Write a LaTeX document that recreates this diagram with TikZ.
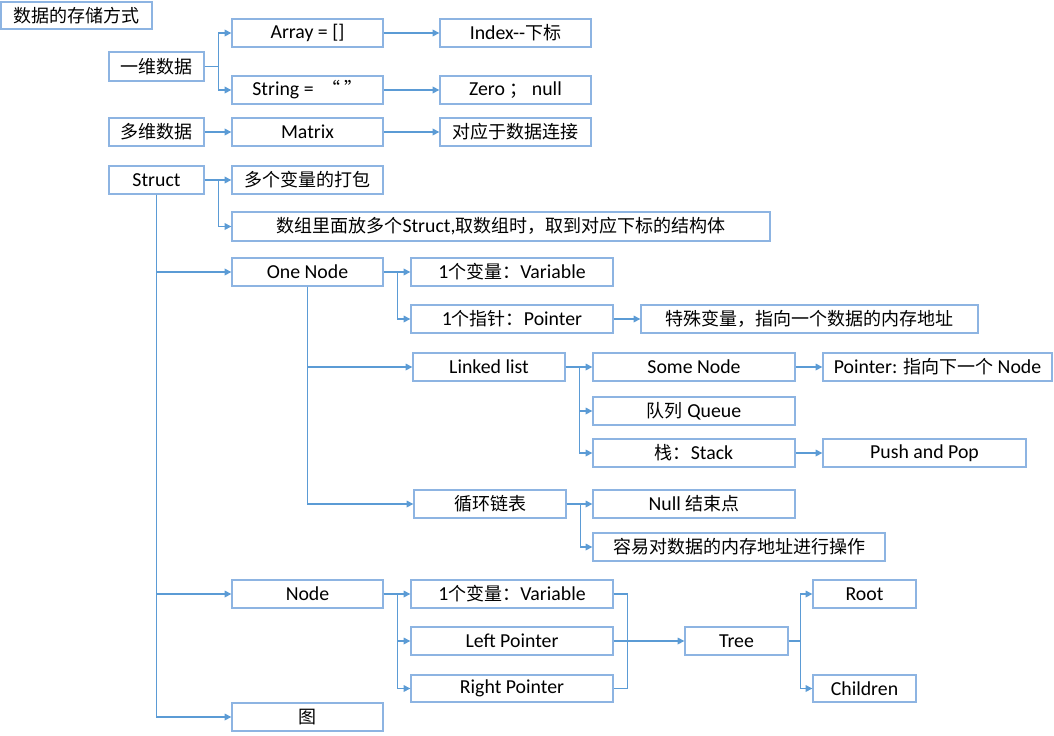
\documentclass[tikz,border=0pt]{standalone}
\usepackage{fontspec}
\setmainfont{Carlito}[Scale=1.1]
\newfontfamily\cjk{Noto Sans CJK SC}
\usetikzlibrary{arrows.meta}
\definecolor{boxc}{RGB}{141,180,226}
\definecolor{linec}{RGB}{91,155,213}
\tikzset{
  box/.style={draw=boxc, line width=1pt, fill=white, inner sep=0pt, text=black,
    font=\fontsize{13.5}{16}\selectfont},
  link/.style={draw=linec, line width=0.9pt},
  conn/.style={link, -{Triangle[length=5pt,width=5pt]}},
}
\newcommand\mybox[6]{%
  \node[box, minimum width={(#4-#2)*0.75pt}, minimum height={(#5-#3)*0.75pt}]
    (#1) at ({(#2+#4)/2},{(#3+#5)/2}) {#6};}
\begin{document}
\begin{tikzpicture}[x=0.75pt, y=-0.75pt]
\useasboundingbox (0,0) rectangle (1054,736);
% boxes
\mybox{title}{1}{2}{152}{29}{\cjk 数据的存储方式}
\mybox{oned}{109}{52}{204}{81}{\cjk 一维数据}
\mybox{array}{232}{19}{383}{47}{Array = []}
\mybox{string}{232}{76}{383}{104}{String = \ {\cjk “ ”}}
\mybox{index}{440}{19}{591}{47}{Index-{}-{\cjk 下标}}
\mybox{zero}{440}{76}{591}{104}{Zero {\cjk ；} null}
\mybox{multid}{109}{118}{204}{146}{\cjk 多维数据}
\mybox{matrix}{232}{118}{383}{146}{Matrix}
\mybox{conn}{440}{118}{591}{146}{\cjk 对应于数据连接}
\mybox{struct}{109}{166}{204}{194}{Struct}
\mybox{pack}{232}{166}{383}{194}{\cjk 多个变量的打包}
\mybox{arrstruct}{232}{212}{770}{241}{{\cjk 数组里面放多个}Struct,{\cjk 取数组时，取到对应下标的结构体}}
\mybox{onenode}{232}{258}{383}{286}{One Node}
\mybox{var}{411}{258}{613}{286}{1{\cjk 个变量：}Variable}
\mybox{ptr}{411}{305}{613}{333}{1{\cjk 个指针：}Pointer}
\mybox{special}{641}{305}{978}{333}{\cjk 特殊变量，指向一个数据的内存地址}
\mybox{linked}{413}{353}{565}{381}{Linked list}
\mybox{some}{593}{353}{795}{381}{Some Node}
\mybox{pnext}{823}{353}{1052}{381}{Pointer: {\cjk 指向下一个} Node}
\mybox{queue}{593}{397}{795}{425}{{\cjk 队列} Queue}
\mybox{stack}{593}{439}{795}{467}{{\cjk 栈：}Stack}
\mybox{push}{823}{439}{1026}{467}{Push and Pop}
\mybox{circ}{414}{490}{566}{518}{\cjk 循环链表}
\mybox{null}{593}{490}{795}{518}{Null {\cjk 结束点}}
\mybox{easy}{593}{533}{885}{561}{\cjk 容易对数据的内存地址进行操作}
\mybox{node}{232}{580}{383}{608}{Node}
\mybox{var2}{411}{580}{613}{608}{1{\cjk 个变量：}Variable}
\mybox{left}{411}{627}{613}{655}{Left Pointer}
\mybox{right}{411}{675}{613}{702}{Right Pointer}
\mybox{tree}{685}{627}{788}{655}{Tree}
\mybox{root}{813}{580}{916}{608}{Root}
\mybox{children}{813}{675}{916}{702}{Children}
\mybox{graph}{232}{703}{383}{731}{\cjk 图}
% connectors
\draw[conn] (oned.east) -- ++(14,0) |- (array.west);
\draw[conn] (oned.east) -- ++(14,0) |- (string.west);
\draw[conn] (array.east) -- (index.west);
\draw[conn] (string.east) -- (zero.west);
\draw[conn] (multid.east) -- (matrix.west);
\draw[conn] (matrix.east) -- (conn.west);
\draw[conn] (struct.east) -- ++(14,0) |- (pack.west);
\draw[conn] (struct.east) -- ++(14,0) |- (arrstruct.west);
\draw[conn] (struct.south) |- (onenode.west);
\draw[conn] (struct.south) |- (node.west);
\draw[conn] (struct.south) |- (graph.west);
\draw[conn] (onenode.east) -- ++(14,0) |- (var.west);
\draw[conn] (onenode.east) -- ++(14,0) |- (ptr.west);
\draw[conn] (ptr.east) -- (special.west);
\draw[conn] (onenode.south) |- (linked.west);
\draw[conn] (onenode.south) |- (circ.west);
\draw[conn] (linked.east) -- ++(14,0) |- (some.west);
\draw[conn] (linked.east) -- ++(14,0) |- (queue.west);
\draw[conn] (linked.east) -- ++(14,0) |- (stack.west);
\draw[conn] (some.east) -- (pnext.west);
\draw[conn] (stack.east) -- (push.west);
\draw[conn] (circ.east) -- ++(14,0) |- (null.west);
\draw[conn] (circ.east) -- ++(14,0) |- (easy.west);
\draw[conn] (node.east) -- ++(14,0) |- (var2.west);
\draw[conn] (node.east) -- ++(14,0) |- (left.west);
\draw[conn] (node.east) -- ++(14,0) |- (right.west);
\draw[link] (var2.east) -- ++(14,0) |- (right.east);
\draw[conn] (left.east) -- (tree.west);
\draw[conn] (tree.east) -- ++(12,0) |- (root.west);
\draw[conn] (tree.east) -- ++(12,0) |- (children.west);
\end{tikzpicture}
\end{document}
